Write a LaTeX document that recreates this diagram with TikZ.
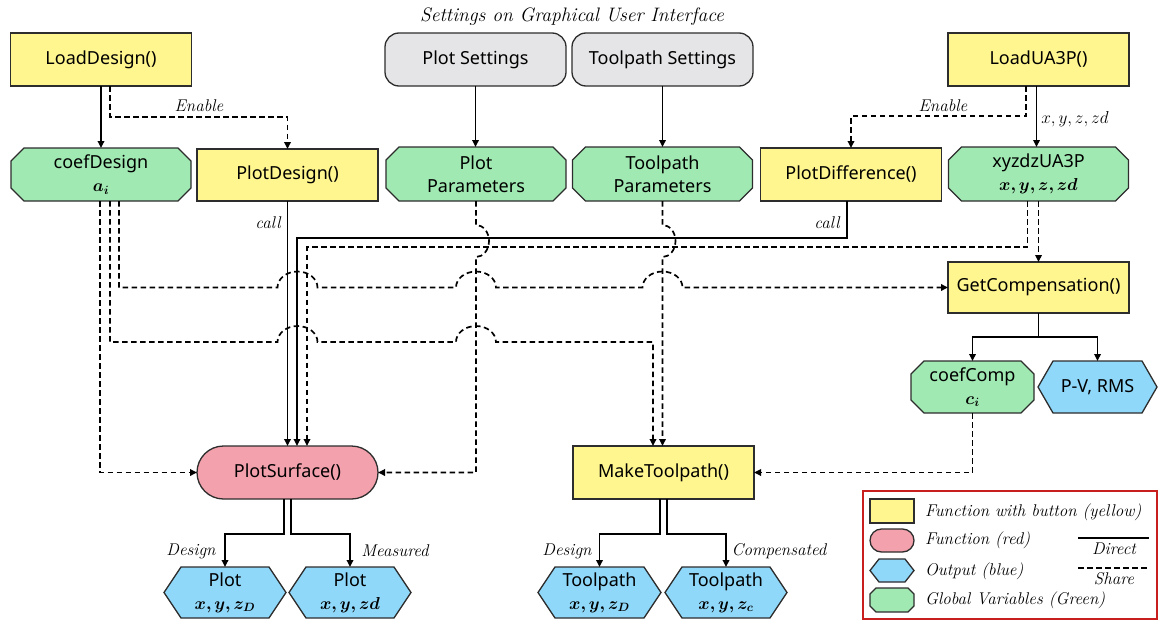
\documentclass[tikz,border=0pt]{standalone}
\usepackage{fontspec}
\usepackage{bm}
\usetikzlibrary{arrows.meta,backgrounds,calc}
\newfontfamily\boxfont{Noto Sans}
\definecolor{cyel}{RGB}{255,246,143}
\definecolor{cgreen}{RGB}{160,233,178}
\definecolor{cpink}{RGB}{243,161,172}
\definecolor{cblue}{RGB}{143,216,249}
\definecolor{cgrey}{RGB}{229,229,231}
\definecolor{cbd}{RGB}{45,45,45}
\definecolor{cred}{RGB}{200,30,30}
\newcommand\octpoly[3]{%
\path[draw=cbd,line width=1.3pt,fill=#2] ([xshift=#3]#1.north west) -- ([xshift=-#3]#1.north east) -- ([yshift=-#3]#1.north east) -- ([yshift=#3]#1.south east) -- ([xshift=-#3]#1.south east) -- ([xshift=#3]#1.south west) -- ([yshift=#3]#1.south west) -- ([yshift=-#3]#1.north west) -- cycle;}
\newcommand\hexpoly[3]{%
\path[draw=cbd,line width=1.3pt,fill=#2] ([xshift=#3]#1.north west) -- ([xshift=-#3]#1.north east) -- (#1.east) -- ([xshift=-#3]#1.south east) -- ([xshift=#3]#1.south west) -- (#1.west) -- cycle;}
\begin{document}
\begin{tikzpicture}[x=1pt,y=-1pt,
  base/.style={inner sep=0pt, outer sep=0pt, align=center, text=black,
    font=\boxfont\fontsize{18}{23}\selectfont},
  fnbtn/.style={base, draw=cbd, line width=1.3pt, fill=cyel, minimum width=181pt, minimum height=53pt},
  gui/.style={base, draw=cbd, line width=1.3pt, fill=cgrey, rounded corners=14pt, minimum width=181pt, minimum height=53pt},
  fnred/.style={base, draw=cbd, line width=1.3pt, fill=cpink, rounded corners=26.5pt, minimum width=181pt, minimum height=53pt},
  gvar/.style={base, minimum width=180pt, minimum height=54pt},
  outp/.style={base, minimum width=122pt, minimum height=51pt},
  lab/.style={inner sep=0pt, font=\itshape\fontsize{17}{19}\selectfont},
  direct/.style={line width=1.7pt, -{Triangle[length=7pt,width=6.5pt]}},
  share/.style={direct, dash pattern=on 5.5pt off 3.5pt},
  legsh/.style={inner sep=0pt, outer sep=0pt, minimum width=44pt, minimum height=24pt},
]
\useasboundingbox (0,0) rectangle (1158,621);

% title
\node[inner sep=0pt, font=\itshape\fontsize{19.5}{22}\selectfont] (title) at (572,17) {Settings on Graphical User Interface};

% nodes
\node[fnbtn] (LoadDesign) at (101,59.5) {LoadDesign()};
\node[gvar, minimum height=53pt] (coefDesign) at (101,174.5) {coefDesign\\$\bm{a_i}$};
\node[fnbtn, minimum height=52pt] (PlotDesign) at (287.5,175) {PlotDesign()};
\node[gui] (PlotSettings) at (475.5,59.5) {Plot Settings};
\node[gui] (ToolpathSettings) at (662.5,59.5) {Toolpath Settings};
\node[gvar] (PlotParams) at (476,174) {Plot\\Parameters};
\node[gvar] (ToolpathParams) at (662.5,174) {Toolpath\\Parameters};
\node[fnbtn] (LoadUA3P) at (1038.5,59.5) {LoadUA3P()};
\node[fnbtn] (PlotDifference) at (851,174.5) {PlotDifference()};
\node[gvar] (xyzdzUA3P) at (1038.5,174) {xyzdzUA3P\\$\bm{x,y,z,zd}$};
\node[fnbtn, minimum height=51pt] (GetCompensation) at (1038.5,287.5) {GetCompensation()};
\node[gvar, minimum width=123pt, minimum height=52pt] (coefComp) at (972.5,387) {coefComp\\$\bm{c_i}$};
\node[outp, minimum width=119pt, minimum height=52pt] (PVRMS) at (1097.5,387) {P-V, RMS};
\node[fnred] (PlotSurface) at (287.5,472.5) {PlotSurface()};
\node[fnbtn] (MakeToolpath) at (663.5,472.5) {MakeToolpath()};
\node[outp] (PlotD) at (225,592.5) {Plot\\$\bm{x,y,z_D}$};
\node[outp] (PlotM) at (350,592.5) {Plot\\$\bm{x,y,zd}$};
\node[outp, minimum width=123pt] (TPD) at (599.5,592.5) {Toolpath\\$\bm{x,y,z_D}$};
\node[outp] (TPC) at (726,592.5) {Toolpath\\$\bm{x,y,z_c}$};

% connectors top
\draw[direct] (LoadDesign.south) -- (coefDesign.north);
\draw[share] ([xshift=9pt]LoadDesign.south) -- ++(0,31) -| (PlotDesign.north);
\node[lab] (en1) at (199,106) {Enable};
\draw[direct] (PlotSettings.south) -- (PlotSettings.south |- PlotParams.north);
\draw[direct] (ToolpathSettings.south) -- (ToolpathParams.north);
\draw[direct] ([xshift=-2pt]LoadUA3P.south) -- ([xshift=-2pt]xyzdzUA3P.north);
\node[lab] (xyzl) at (1075,119) {$x,y,z,zd$};
\draw[share] ([xshift=-12.5pt]LoadUA3P.south) -- ++(0,30) -| (PlotDifference.north);
\node[lab] (en2) at (943,106) {Enable};

% calls to PlotSurface
\draw[direct] (PlotDesign.south) -- (PlotSurface.north);
\node[lab] (call1) at (268,223) {call};
\draw[direct] ([xshift=-4pt]PlotDifference.south) -- ++(0,37) -| ([xshift=9.5pt]PlotSurface.north);
\node[lab] (call2) at (827,223) {call};
\draw[share] ([xshift=-11pt]xyzdzUA3P.south) -- ++(0,46) -| ([xshift=19.5pt]PlotSurface.north);
\draw[share] (xyzdzUA3P.south) -- (GetCompensation.north);

% coefDesign shares
\draw[share] ([xshift=18pt]coefDesign.south) |- (277.5,287.5)
  arc[start angle=180,end angle=0,x radius=20pt,y radius=16pt] -- (456,287.5)
  arc[start angle=180,end angle=0,x radius=20pt,y radius=16pt] -- (642.5,287.5)
  arc[start angle=180,end angle=0,x radius=20pt,y radius=16pt] -- (GetCompensation.west);
\draw[share] ([xshift=9pt]coefDesign.south) |- (277.5,342)
  arc[start angle=180,end angle=0,x radius=20pt,y radius=16pt] -- (456,342)
  arc[start angle=180,end angle=0,x radius=20pt,y radius=16pt] -- (653,342)
  -- ([xshift=-10.5pt]MakeToolpath.north);
\draw[share] ([xshift=-1pt]coefDesign.south) |- (PlotSurface.west);

% parameters
\draw[share] (PlotParams.south) -- ++(0,24)
  arc[start angle=90,end angle=-90,x radius=13pt,y radius=16pt] |- (PlotSurface.east);
\draw[share] (ToolpathParams.south) -- ++(0,24)
  arc[start angle=90,end angle=-90,x radius=13pt,y radius=16pt] -- (ToolpathParams.south |- MakeToolpath.north);

% compensation
\draw[direct] (GetCompensation.south) -- ++(0,24) -| (coefComp.north);
\draw[direct] (GetCompensation.south) -- ++(0,24) -| (PVRMS.north);
\draw[share] (coefComp.south) |- (MakeToolpath.east);

% outputs
\draw[direct] ([xshift=-3.5pt]PlotSurface.south) -- ++(0,35) -| (PlotD.north);
\draw[direct] ([xshift=3.5pt]PlotSurface.south) -- ++(0,35) -| (PlotM.north);
\node[lab] (ld1) at (191,551) {Design};
\node[lab] (lm1) at (395,551) {Measured};
\draw[direct] ([xshift=-3.5pt]MakeToolpath.south) -- ++(0,35) -| (TPD.north);
\draw[direct] ([xshift=3.5pt]MakeToolpath.south) -- ++(0,35) -| (TPC.north);
\node[lab] (ld2) at (567,551) {Design};
\node[lab] (lc2) at (779,551) {Compensated};

% legend
\draw[cred, line width=1.6pt] (863,491) rectangle (1157,619);
\node[legsh, draw=cbd, line width=1.3pt, fill=cyel] (lgY) at (892,511) {};
\node[legsh, draw=cbd, line width=1.3pt, fill=cpink, rounded corners=11.5pt, minimum height=23pt] (lgR) at (892,540.5) {};
\node[legsh, minimum height=23pt] (lgB) at (892,570.5) {};
\node[legsh] (lgG) at (892,600) {};
\node[lab, anchor=west] (lt1) at (925,512) {Function with button (yellow)};
\node[lab, anchor=west] (lt2) at (925,540) {Function (red)};
\node[lab, anchor=west] (lt3) at (925,571) {Output (blue)};
\node[lab, anchor=west] (lt4) at (925,600) {Global Variables (Green)};
\coordinate (d1) at (1078,538);
\coordinate (d2) at (1149,538);
\coordinate (s1) at (1078,568);
\coordinate (s2) at (1149,568);
\draw[line width=1.7pt] (d1) -- (d2);
\draw[line width=1.7pt, dash pattern=on 5.5pt off 3.5pt] (s1) -- (s2);
\node[lab] (ldir) at (1114,549) {Direct};
\node[lab] (lsh) at (1114,579) {Share};

% background shapes
\begin{scope}[on background layer]
\octpoly{coefDesign}{cgreen}{13pt}
\octpoly{PlotParams}{cgreen}{13pt}
\octpoly{ToolpathParams}{cgreen}{13pt}
\octpoly{xyzdzUA3P}{cgreen}{13pt}
\octpoly{coefComp}{cgreen}{13pt}
\hexpoly{PVRMS}{cblue}{15pt}
\hexpoly{PlotD}{cblue}{17pt}
\hexpoly{PlotM}{cblue}{17pt}
\hexpoly{TPD}{cblue}{17pt}
\hexpoly{TPC}{cblue}{17pt}
\hexpoly{lgB}{cblue}{9pt}
\octpoly{lgG}{cgreen}{6pt}
\end{scope}
\end{tikzpicture}
\end{document}
